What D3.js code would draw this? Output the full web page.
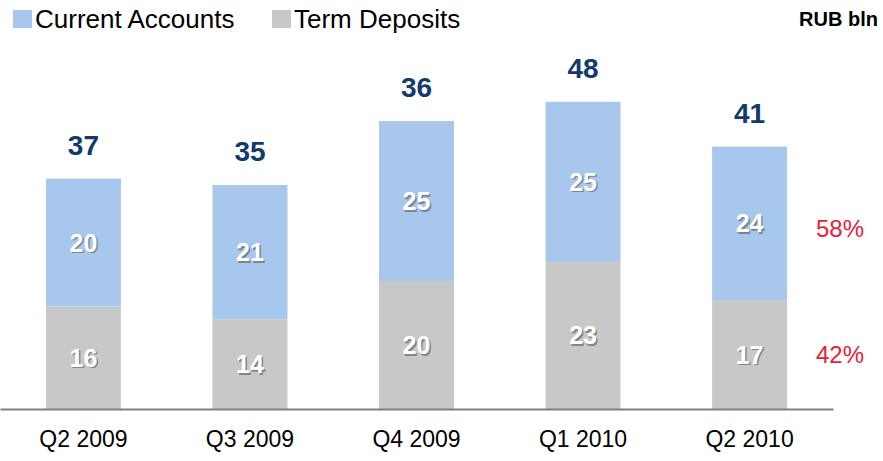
<!DOCTYPE html>
<html><head><meta charset="utf-8">
<script src="https://cdn.jsdelivr.net/npm/d3@7"></script>
<style>body{margin:0;background:#fff}svg{display:block;font-family:"Liberation Sans",Arial,sans-serif}</style>
</head><body><svg id="c" width="883" height="461"></svg>
<script>
const categories = ["Q2 2009","Q3 2009","Q4 2009","Q1 2010","Q2 2010"];
const termDeposits = [16,14,20,23,17];
const currentAccounts = [20,21,25,25,24];
const totalLabels = ["37","35","36","48","41"];
const seriesNames = ["Current Accounts","Term Deposits"];
const shareLabels = ["58%","42%"];
const unitLabel = "RUB bln";

const colors = {cur:"#A7C7EC", term:"#C8C8C8"};
const svg = d3.select("#c");
const x = d3.scaleBand().domain(categories).range([0,833]).paddingInner(0.55).paddingOuter(0.276);
const y = d3.scaleLinear().domain([0,50]).range([409,409-50*6.4]);

const data = categories.map((c,i)=>({c, term:termDeposits[i], cur:currentAccounts[i], total:totalLabels[i]}));
const stack = d3.stack().keys(["term","cur"])(data);

const g = svg.append("g");
stack.forEach(layer=>{
  g.selectAll(null).data(layer).enter().append("rect")
    .attr("x",d=>x(d.data.c)).attr("width",x.bandwidth())
    .attr("y",d=>y(d[1])).attr("height",d=>y(d[0])-y(d[1]))
    .attr("fill",layer.key==="cur"?colors.cur:colors.term);
});

// segment labels with shadow
stack.forEach(layer=>{
  const sel = g.selectAll(null).data(layer).enter();
  const ty = d=>(y(d[0])+y(d[1]))/2 + 9;
  sel.append("text").attr("x",d=>x(d.data.c)+x.bandwidth()/2+1.5).attr("y",d=>ty(d)+1.5)
    .attr("text-anchor","middle").attr("font-size",25).attr("font-weight","bold")
    .attr("fill","#6a6a6a").attr("opacity",0.7).text(d=>d.data[layer.key]);
  sel.append("text").attr("x",d=>x(d.data.c)+x.bandwidth()/2).attr("y",ty)
    .attr("text-anchor","middle").attr("font-size",25).attr("font-weight","bold")
    .attr("fill","#fff").text(d=>d.data[layer.key]);
});

// totals
g.selectAll(null).data(data).enter().append("text")
  .attr("x",d=>x(d.c)+x.bandwidth()/2).attr("y",d=>y(d.term+d.cur)-24)
  .attr("text-anchor","middle").attr("font-size",28).attr("font-weight","bold")
  .attr("fill","#123B6C").text(d=>d.total);

// axis
const xAxis = d3.axisBottom(x).tickSize(0).tickPadding(26);
const ax = svg.append("g").attr("transform","translate(0,409)").call(xAxis);
ax.select(".domain").attr("stroke","#7f7f7f").attr("stroke-width",2);
ax.selectAll("text").attr("font-size",23).attr("fill","#000").attr("font-family","Liberation Sans, Arial, sans-serif").attr("dy","0.5em");

// share labels
const last = data[data.length-1];
const segMid = [(y(last.term)+y(last.term+last.cur))/2, (y(0)+y(last.term))/2];
svg.selectAll(null).data(shareLabels).enter().append("text")
  .attr("x",840).attr("y",(d,i)=>segMid[i]+ (i===0?14:8))
  .attr("text-anchor","middle").attr("font-size",24).attr("fill","#E8203A").text(d=>d);

// legend
const leg = svg.append("g");
const lx = [13,272];
seriesNames.forEach((n,i)=>{
  leg.append("rect").attr("x",lx[i]).attr("y",10).attr("width",19).attr("height",18)
    .attr("fill",i===0?colors.cur:colors.term);
  leg.append("text").attr("x",lx[i]+22).attr("y",28).attr("font-size",26).attr("fill","#000").text(n);
});
svg.append("text").attr("x",878).attr("y",26).attr("text-anchor","end").attr("font-size",20)
  .attr("font-weight","bold").attr("fill","#000").text(unitLabel);
</script></body></html>
